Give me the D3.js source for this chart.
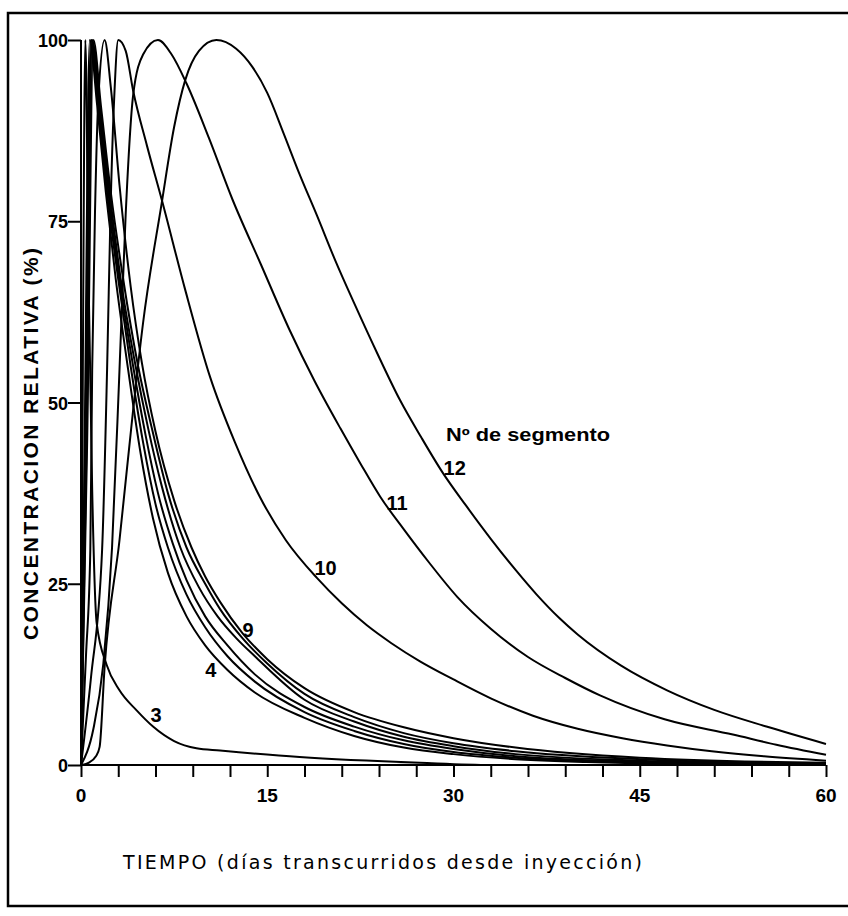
<!DOCTYPE html>
<html>
<head>
<meta charset="utf-8">
<script src="https://cdn.jsdelivr.net/npm/d3@7"></script>
<style>
  body { margin: 0; background: #fff; }
  text { font-family: "Liberation Sans", Arial, sans-serif; fill: #000; }
</style>
</head>
<body>
<div id="chart"></div>
<script>
// tick labels
const xLabels = [0, 15, 30, 45, 60];
const yLabels = [0, 25, 50, 75, 100];

// [días, concentración %], one list per segment
const seg3 = [[0,0],[0.15,55],[0.35,100],[0.6,68],[0.9,38],[1.26,19.6],[2.07,13.8],[3.1,10.3],[4.5,7.5],[5.8,5.3],[7.5,3.3],[9.3,2.3],[11.2,2.0],[17.6,1.1],[27.3,0.3],[33,0],[60,0]];
const seg4 = [[0,0],[0.3,45],[0.7,100],[1.3,91],[2.0,79],[2.8,67],[3.8,54.5],[4.8,43],[5.8,34],[7,26.5],[8.5,20.5],[10,16.5],[11.8,13.1],[14,10],[18,6.5],[22,4.0],[26,2.4],[30,1.5],[35,0.8],[45,0.25],[60,0]];
const seg5 = [[0,0],[0.35,45],[0.8,100],[1.4,91],[2.1,79],[3.0,67],[4.0,55],[5,44.5],[6,36],[7,30],[8.5,23.5],[10,19],[11.8,15],[14,11.5],[18,7.3],[22,4.7],[26,2.9],[30,1.8],[35,1.0],[45,0.35],[60,0.05]];
const seg6 = [[0,0],[0.4,45],[0.85,100],[1.45,91],[2.2,79],[3.1,67],[4.2,55],[5.2,45.5],[6.2,37.5],[7.4,30.5],[8.5,25.5],[10,20.5],[11.8,16.5],[14,12.5],[18,8.0],[22,5.3],[26,3.4],[30,2.2],[35,1.2],[45,0.45],[60,0.1]];
const seg7 = [[0,0],[0.45,45],[0.9,100],[1.5,91],[2.3,79],[3.2,67],[4.4,55],[5.4,46.5],[6.5,38.5],[8,30],[9.5,24.5],[11,20.5],[12.5,17.5],[14,15],[18,9.0],[22,6.0],[26,3.9],[30,2.6],[35,1.5],[45,0.6],[60,0.1]];
const seg8 = [[0,0],[0.5,45],[1.0,100],[1.6,91],[2.4,79],[3.4,67],[4.6,55],[5.7,46.5],[7,37.5],[8.5,30],[10,25],[11.2,21.5],[13,17.5],[15,14],[18,9.8],[22,6.6],[26,4.4],[30,3.0],[35,1.9],[45,0.8],[60,0.2]];
const seg9 = [[0,0],[0.4,15],[0.75,29.7],[0.9,54.5],[1.15,78],[1.4,92],[1.9,100],[2.4,93.5],[3.1,80],[4,66],[4.9,55.5],[6,46],[7.5,36.5],[8.9,30],[10,26],[11.2,22.5],[13,18.2],[15,14.6],[18,10.6],[22,7.3],[26,5.2],[30,3.7],[35,2.4],[45,1.0],[60,0.3]];
const seg10 = [[0,0],[0.8,12],[1.7,29.7],[2.1,54.5],[2.4,78],[2.7,93],[3.0,100],[3.6,98.5],[4.2,93],[5.3,85.5],[6.5,78],[8.4,65.5],[10.4,53.5],[12.4,44.5],[14.4,37],[16.5,31],[19,25.8],[21,22.3],[23,19.3],[25,16.8],[27.3,14.3],[30,11.8],[33,9.2],[36.4,6.8],[40,5.0],[43.6,3.7],[47.2,2.7],[50.8,1.9],[55,1.2],[60,0.6]];
const seg11 = [[0,0],[1.0,5],[1.8,14],[2.5,30],[3.1,54.5],[3.6,76],[4.2,92.4],[5.0,98],[6.2,100],[7.3,98],[8.5,94],[10.3,86.5],[12.2,78],[14.5,69],[16.8,60],[18.8,53],[20.9,46.4],[22.5,41.6],[24.1,37],[26,32.5],[28,28],[30.3,23.2],[33,18.8],[36,14.9],[39,12],[41.8,9.6],[47,6.3],[52.5,4.2],[56,2.8],[60,1.4]];
const seg12 = [[0,0],[0.6,0.3],[1.2,1.2],[1.5,2.5],[1.9,13.5],[3.1,31],[4.2,49],[5.0,61],[6.5,77.5],[7.5,88],[8.4,94.5],[9.5,98.5],[10.9,100],[12.5,98.8],[13.8,96.3],[15,92.7],[16.3,87.2],[17.6,81.5],[19,75.8],[20.5,69.5],[22,63.7],[23.8,57],[25.7,50.3],[27.4,45.2],[29.1,40.4],[31,35.8],[33,31.2],[35,26.9],[36.7,23.5],[38.5,20.3],[40,18],[43.5,13.7],[47.2,10.3],[51,7.6],[55.2,5.3],[60,2.9]];

const segments = [seg3, seg4, seg5, seg6, seg7, seg8, seg9, seg10, seg11, seg12];

// curve labels: [text, días, %]
const curveLabels = [["3", 5.6, 5.9], ["4", 10.0, 12.1], ["9", 13.0, 17.7], ["10", 18.8, 26.2], ["11", 24.6, 35.2], ["12", 29.2, 40.0]];

const width = 848, height = 916;

const svg = d3.select("#chart")
    .append("svg")
    .attr("width", width)
    .attr("height", height)
    .style("background", "#fff");

// frame round the drawing
svg.append("rect")
    .attr("x", 8)
    .attr("y", 13)
    .attr("width", 860)
    .attr("height", 893)
    .style("fill", "none")
    .style("stroke", "#000")
    .style("stroke-width", 2.5);

const x = d3.scaleLinear().domain([0, 60]).range([81, 826]);
const y = d3.scaleLinear().domain([0, 100]).range([765, 40]);

// x axis: tick every 3 days, labels every 15
const xAxis = svg.append("g")
    .attr("transform", `translate(0, ${y(0)})`)
    .call(d3.axisBottom(x).tickValues(d3.range(0, 61, 3)).tickSize(12).tickFormat(""));
xAxis.select(".domain").attr("d", `M${x(0)},0H${x(60)}`);
xAxis.selectAll("path, line").style("stroke", "#000").style("stroke-width", 2);

svg.selectAll(".xlab")
    .data(xLabels)
    .enter()
    .append("text")
    .attr("class", "xlab")
    .attr("x", d => x(d))
    .attr("y", 802)
    .attr("text-anchor", "middle")
    .style("font-size", "19px")
    .style("font-weight", "bold")
    .text(d => d);

// y axis
const yAxis = svg.append("g")
    .attr("transform", `translate(${x(0)}, 0)`)
    .call(d3.axisLeft(y).tickValues(yLabels).tickSize(13).tickFormat(""));
yAxis.select(".domain").attr("d", `M0,${y(0)}V${y(100)}`);
yAxis.selectAll("path, line").style("stroke", "#000").style("stroke-width", 2);

svg.selectAll(".ylab")
    .data(yLabels)
    .enter()
    .append("text")
    .attr("class", "ylab")
    .attr("x", 68)
    .attr("y", d => y(d) + 7)
    .attr("text-anchor", "end")
    .style("font-size", "18px")
    .style("font-weight", "bold")
    .text(d => d);

// curves
const line = d3.line()
    .x(d => x(d[0]))
    .y(d => y(d[1]))
    .curve(d3.curveMonotoneX);

svg.selectAll(".seg")
    .data(segments)
    .enter()
    .append("path")
    .attr("class", "seg")
    .attr("d", line)
    .style("fill", "none")
    .style("stroke", "#000")
    .style("stroke-width", 2);

svg.selectAll(".clab")
    .data(curveLabels)
    .enter()
    .append("text")
    .attr("class", "clab")
    .attr("x", d => x(d[1]))
    .attr("y", d => y(d[2]))
    .style("font-size", "20px")
    .style("font-weight", "bold")
    .text(d => d[0]);

svg.append("text")
    .attr("x", 446)
    .attr("y", 441)
    .style("font-size", "18px")
    .style("font-weight", "bold")
    .attr("textLength", 164)
    .attr("lengthAdjust", "spacingAndGlyphs")
    .text("Nº de segmento");

// axis titles
svg.append("text")
    .attr("transform", "translate(38, 444) rotate(-90)")
    .attr("text-anchor", "middle")
    .style("font-size", "21px")
    .style("font-weight", "bold")
    .attr("textLength", 392)
    .attr("lengthAdjust", "spacing")
    .text("CONCENTRACION  RELATIVA  (%)");

svg.append("text")
    .attr("x", 123)
    .attr("y", 869)
    .style("font-family", "'DejaVu Sans', sans-serif")
    .style("font-size", "19px")
    .attr("textLength", 519)
    .attr("lengthAdjust", "spacing")
    .text("TIEMPO  (días transcurridos desde inyección)");
</script>
</body>
</html>
